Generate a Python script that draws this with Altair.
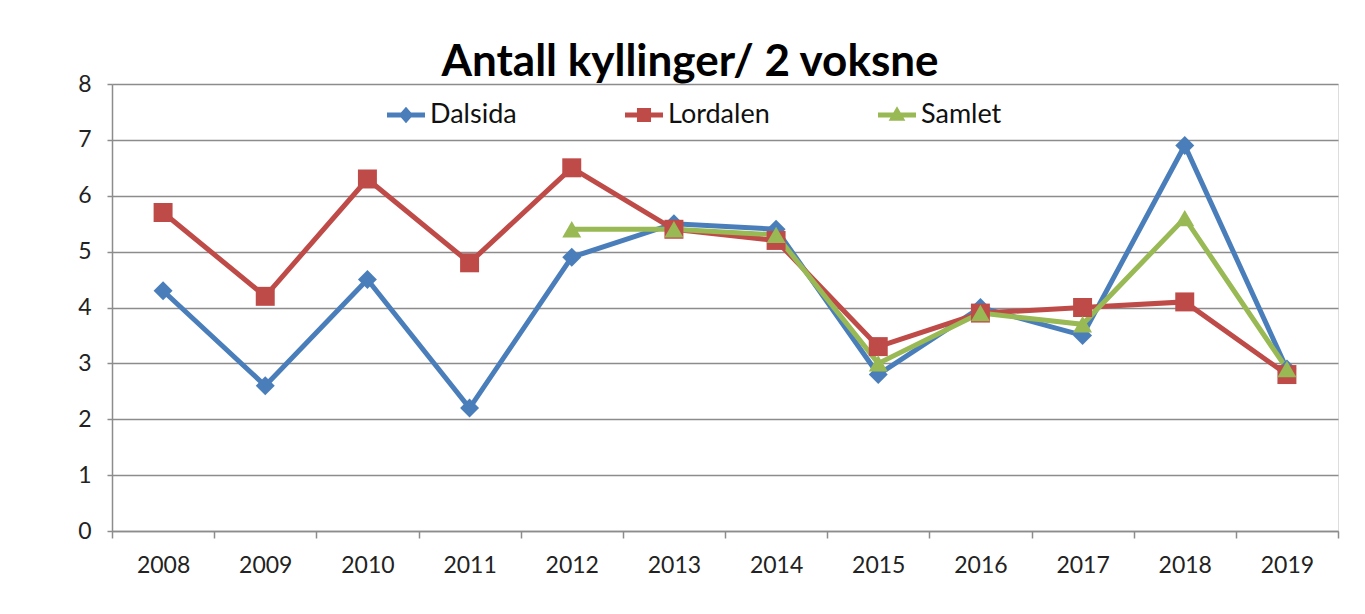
import altair as alt
import pandas as pd

years = [2008, 2009, 2010, 2011, 2012, 2013, 2014, 2015, 2016, 2017, 2018, 2019]
dalsida = [4.3, 2.6, 4.5, 2.2, 4.9, 5.5, 5.4, 2.8, 4.0, 3.5, 6.9, 2.9]
lordalen = [5.7, 4.2, 6.3, 4.8, 6.5, 5.4, 5.2, 3.3, 3.9, 4.0, 4.1, 2.8]
samlet = [None, None, None, None, 5.4, 5.4, 5.3, 3.0, 3.9, 3.7, 5.6, 2.9]
series_names = ["Dalsida", "Lordalen", "Samlet"]
colors = ["#4A7EBB", "#BE4B48", "#98B954"]
marker_shapes = ["diamond", "square", "triangle-up"]

rows = []
for name, vals in zip(series_names, [dalsida, lordalen, samlet]):
    for y, v in zip(years, vals):
        if v is not None:
            rows.append({"year": y, "value": v, "series": name, "marker": name})
df = pd.DataFrame(rows)

FONT = "Lato"
GRID = "#8c8c8c"

# legend symbols: a short line with the series marker on it
legend_paths = [
    "M-1,-0.13 H1 V0.13 H-1 Z M0,-0.44 L0.38,0 L0,0.44 L-0.38,0 Z",
    "M-1,-0.13 H1 V0.13 H-1 Z M-0.37,-0.37 H0.37 V0.37 H-0.37 Z",
    "M-1,-0.13 H1 V0.13 H-1 Z M0,-0.46 L0.44,0.3 L-0.44,0.3 Z",
]

x_enc = alt.X(
    "year:O",
    title=None,
    bandPosition=0.5,
    scale=alt.Scale(type="band", paddingInner=0, paddingOuter=0),
    axis=alt.Axis(
        tickBand="extent", labelAngle=0, grid=False, domainColor=GRID,
        domainWidth=1.5, tickColor=GRID, tickWidth=1.5, tickSize=7,
        labelFontSize=23, labelFont=FONT, labelColor="#222", labelPadding=16,
    ),
)
y_enc = alt.Y(
    "value:Q",
    title=None,
    scale=alt.Scale(domain=[0, 8], nice=False, zero=True),
    axis=alt.Axis(
        values=[0, 1, 2, 3, 4, 5, 6, 7, 8], grid=True, gridColor=GRID,
        gridWidth=1.5, domainColor=GRID, domainWidth=1.5, tickColor=GRID,
        tickWidth=1.5, tickSize=5, labelFontSize=23, labelFont=FONT,
        labelColor="#222", labelPadding=16,
    ),
)

base = alt.Chart(df)

lines = base.mark_line(strokeWidth=5).encode(
    x=x_enc, y=y_enc,
    color=alt.Color("series:N", scale=alt.Scale(domain=series_names, range=colors), legend=None),
)
points = base.mark_point(filled=True, opacity=1, size=360).encode(
    x=x_enc, y=y_enc,
    color=alt.Color("series:N", scale=alt.Scale(domain=series_names, range=colors), legend=None),
    shape=alt.Shape("marker:N", scale=alt.Scale(domain=series_names, range=marker_shapes), legend=None),
)
legend_layer = base.transform_filter("false").mark_point(filled=True, opacity=1).encode(
    x=x_enc, y=y_enc,
    color=alt.Color(
        "series:N", scale=alt.Scale(domain=series_names, range=colors),
        legend=alt.Legend(
            title=None, orient="none", legendX=275, legendY=12, direction="horizontal",
            symbolSize=1444, columnPadding=108, labelFontSize=27, labelFont=FONT,
            labelColor="#111", labelOffset=5, symbolStrokeWidth=0,
        ),
    ),
    shape=alt.Shape("series:N", scale=alt.Scale(domain=series_names, range=legend_paths)),
)

chart = (
    alt.layer(lines, points, legend_layer)
    .resolve_scale(color="independent", shape="independent")
    .properties(
        width=1226, height=447,
        autosize=alt.AutoSizeParams(type="none"),
        padding={"left": 104, "top": 76, "right": 10, "bottom": 70},
        title=alt.TitleParams(
            "Antall kyllinger/ 2 voksne", fontSize=44, font=FONT, fontWeight="bold",
            color="#000", anchor="middle", dx=-35, offset=-12,
        ),
    )
    .configure_view(stroke=None)
    .configure(background="white")
)

chart.save("out.html", embed_options={"renderer": "svg", "actions": False})
